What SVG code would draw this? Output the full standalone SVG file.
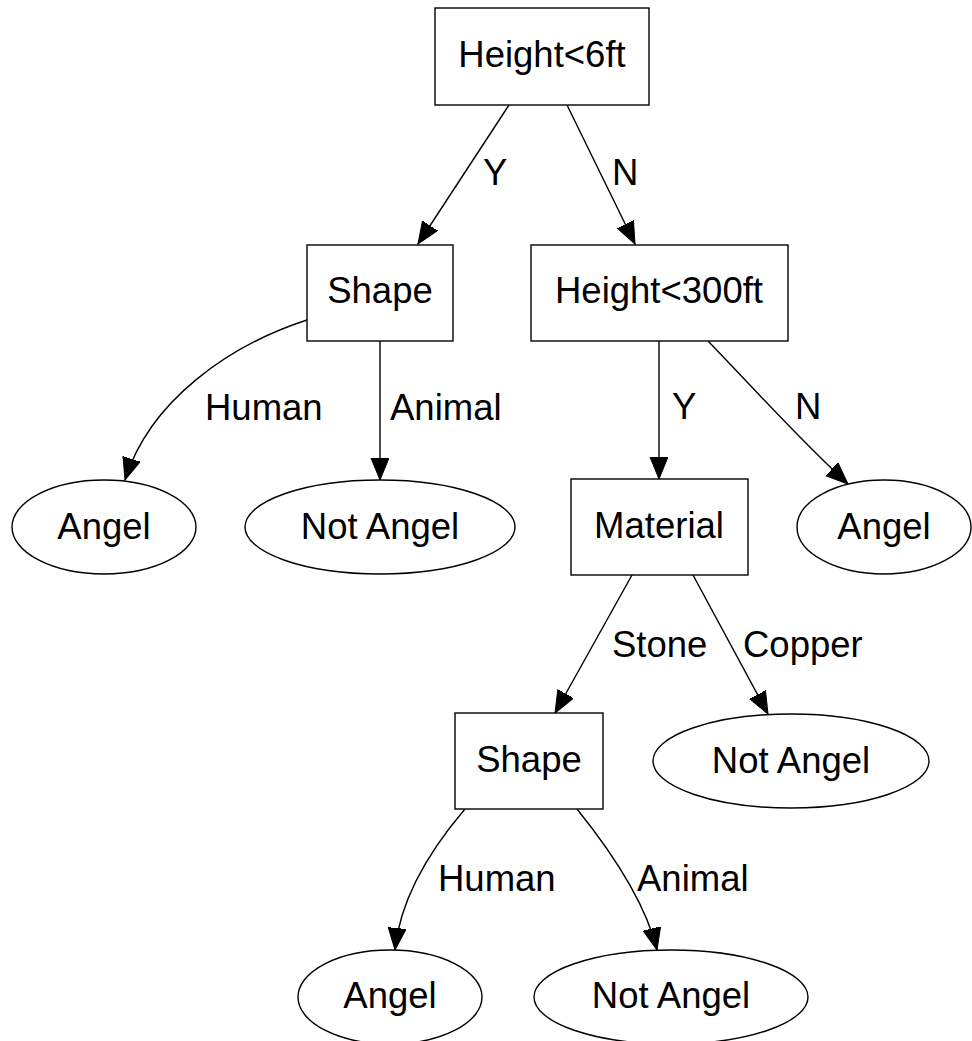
<svg xmlns="http://www.w3.org/2000/svg" width="972" height="1041" viewBox="0 0 972 1041">
<style>
.n{fill:#fff;stroke:#000;stroke-width:1.4}
.t{font-family:"Liberation Sans",Arial,sans-serif;font-size:36.5px;fill:#000;text-anchor:middle}
.l{font-family:"Liberation Sans",Arial,sans-serif;font-size:36.5px;fill:#000}
.e{fill:none;stroke:#000;stroke-width:1.4;marker-end:url(#ah)}
</style>
<defs>
<marker id="ah" markerUnits="userSpaceOnUse" markerWidth="24" markerHeight="20" refX="22" refY="9" orient="auto">
<path d="M0,0 L22,9 L0,18 Z" fill="#000" stroke="#000" stroke-width="1"/>
</marker>
</defs>
<rect width="972" height="1041" fill="#fff"/>
<g id="edges">
<path class="e" d="M509,105 L418,244"/>
<path class="e" d="M567,105 L635,244"/>
<path class="e" d="M307,320 C230,345 150,400 125,480"/>
<path class="e" d="M380,341 L380,480"/>
<path class="e" d="M659,341 L659,479"/>
<path class="e" d="M708,341 C760,395 800,440 848,484"/>
<path class="e" d="M632,575 L555,713"/>
<path class="e" d="M693,575 L768,714"/>
<path class="e" d="M465,809 C430,850 400,900 395,950"/>
<path class="e" d="M577,809 C610,850 645,900 657,950"/>
<text class="l" x="483" y="185">Y</text>
<text class="l" x="612" y="185">N</text>
<text class="l" x="205" y="420">Human</text>
<text class="l" x="390" y="420">Animal</text>
<text class="l" x="672" y="419">Y</text>
<text class="l" x="795" y="419">N</text>
<text class="l" x="612" y="657">Stone</text>
<text class="l" x="743" y="657">Copper</text>
<text class="l" x="438" y="891">Human</text>
<text class="l" x="637" y="891">Animal</text>
</g>
<g id="n1"><rect class="n" x="435" y="8" width="214" height="97"/><text class="t" x="542" y="67">Height&lt;6ft</text></g>
<g id="n2"><rect class="n" x="307" y="245" width="146" height="96"/><text class="t" x="380" y="303">Shape</text></g>
<g id="n3"><rect class="n" x="531" y="245" width="257" height="96"/><text class="t" x="659" y="303">Height&lt;300ft</text></g>
<g id="n4"><ellipse class="n" cx="104" cy="527" rx="92" ry="47"/><text class="t" x="104" y="539">Angel</text></g>
<g id="n5"><ellipse class="n" cx="380" cy="527" rx="135" ry="47"/><text class="t" x="380" y="539">Not Angel</text></g>
<g id="n6"><rect class="n" x="571" y="479" width="177" height="96"/><text class="t" x="659" y="538">Material</text></g>
<g id="n7"><ellipse class="n" cx="884" cy="527" rx="87" ry="47"/><text class="t" x="884" y="539">Angel</text></g>
<g id="n8"><rect class="n" x="455" y="713" width="148" height="96"/><text class="t" x="529" y="772">Shape</text></g>
<g id="n9"><ellipse class="n" cx="791" cy="761" rx="138" ry="47"/><text class="t" x="791" y="773">Not Angel</text></g>
<g id="n10"><ellipse class="n" cx="390" cy="997" rx="92" ry="47"/><text class="t" x="390" y="1008">Angel</text></g>
<g id="n11"><ellipse class="n" cx="671" cy="997" rx="137" ry="47"/><text class="t" x="671" y="1008">Not Angel</text></g>
</svg>
